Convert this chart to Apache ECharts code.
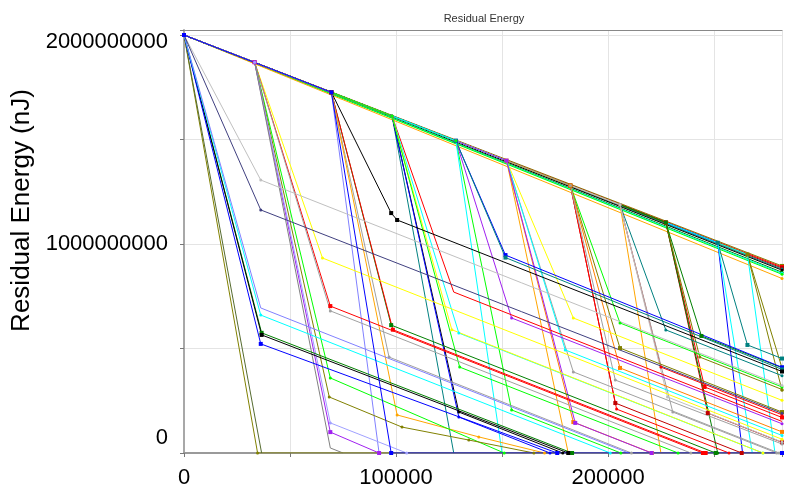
<!DOCTYPE html>
<html>
<head>
<meta charset="utf-8">
<script src="https://cdn.jsdelivr.net/npm/echarts@6/dist/echarts.min.js"></script>
<style>
  html, body { margin: 0; padding: 0; background: #fff; }
  #chart { width: 785px; height: 495px; }
</style>
</head>
<body>
<div id="chart"></div>
<script>
// every node starts full
const startPoint = [0, 2000e6];

// axis ticks (labels only on every other grid line)
const xTicks = [0, 100000, 200000];
const yTicks = [0, 1000000000, 2000000000];

// nodes that never drop off the main line
const keepEnds = [
  [282000, 895e6], [282000, 890e6], [282000, 885e6], [282000, 880e6], [282000, 875e6],
  [282000, 865e6], [282000, 860e6], [282000, 855e6], [282000, 835e6]
];

// drop rounds: where the node leaves the main line, then the rest of its curve
const drop0Start = null;
const drop0Tails = [
  [[34700, 0], [282000, 0]],
  [[36600, 0]],
  [[36600, 575e6], [183000, 0]],
  [[36600, 565e6], [181200, 0]],
  [[36200, 522e6], [176000, 0]],
  [[36200, 660e6], [201000, 0]],
  [[36200, 694e6], [209700, 0]],
  [[36200, 1306e6], [282000, 323e6]],
  [[36200, 1163e6], [282000, 190e6]]
];

const drop1Start = [33300, 1870e6];
const drop1Tails = [
  [[65300, 933e6], [282000, 66e6]],
  [[69000, 703e6], [244700, 0]],
  [[69000, 680e6], [239000, 0]],
  [[69000, 359e6], [151000, 0]],
  [[68500, 268e6], [102800, 124e6], [134300, 62e6], [165000, 0]],
  [[69000, 100e6], [92000, 0]],
  [[69000, 144e6], [105000, 0]],
  [[69000, 24e6], [75000, 0]]
];

const drop2Start = [69500, 1726e6];
const drop2Tails = [
  [[97700, 1148e6], [100500, 1115e6], [282000, 390e6]],
  [[97700, 612e6], [250700, 0]],
  [[98500, 590e6], [246000, 0]],
  [[96700, 459e6], [211000, 0]],
  [[100500, 182e6], [139000, 77e6], [170000, 0]],
  [[92000, 0]]
];

const drop3Start = [98100, 1613e6];
const drop3Tails = [
  [[127200, 770e6], [282000, 151e6]],
  [[129600, 574e6], [273000, 0]],
  [[127200, 0]],
  [[129600, 196e6], [178600, 0]],
  [[129600, 172e6], [172600, 0]],
  [[126300, 590e6], [273000, 0]],
  [[130000, 411e6], [233000, 0]]
];

const drop4Start = [128200, 1494e6];
const drop4Tails = [
  [[151600, 947e6], [282000, 410e6]],
  [[151600, 935e6], [282000, 400e6]],
  [[154500, 646e6], [282000, 140e6]],
  [[154500, 206e6], [206000, 0]],
  [[150000, 0]]
];

const drop5Start = [152100, 1399e6];
const drop5Tails = [
  [[181200, 0]],
  [[183600, 148e6], [220600, 0]],
  [[183600, 646e6], [282000, 252e6]],
  [[183600, 388e6], [280600, 0]],
  [[179800, 493e6], [282000, 84e6]],
  [[184500, 144e6], [220500, 0]]
];

const drop6Start = [182200, 1280e6];
const drop6Tails = [
  [[203400, 239e6], [263000, 0]],
  [[204000, 210e6], [257000, 0]],
  [[205600, 622e6], [282000, 316e6]],
  [[205600, 502e6], [282000, 196e6]],
  [[205600, 407e6], [282000, 101e6]],
  [[203400, 349e6], [282000, 43e6]]
];

const drop7Start = [205600, 1188e6];
const drop7Tails = [
  [[227200, 589e6], [282000, 370e6]],
  [[224900, 411e6], [282000, 183e6]],
  [[224900, 0]],
  [[230500, 196e6], [279500, 0]],
  [[228000, 268e6], [282000, 52e6]]
];

const drop8Start = [227200, 1103e6];
const drop8Tails = [
  [[247000, 191e6], [282000, 51e6]],
  [[245500, 316e6], [282000, 170e6]],
  [[251700, 0]],
  [[243200, 459e6], [282000, 304e6]],
  [[244000, 560e6], [282000, 408e6]]
];

const drop9Start = [251700, 1006e6];
const drop9Tails = [
  [[265700, 517e6], [282000, 452e6]],
  [[263400, 0]],
  [[268000, 0]]
];

const drop10Start = [265700, 950e6];
const drop10Tails = [
  [[282000, 407e6]],
  [[282000, 300e6]],
  [[278700, 0]]
];

// the blue node that dies at the third round and lies along zero afterwards
const lastBlueTail = [[97700, 0], [282000, 0]];

// styles: [colour, symbol]
const keepStyle = [['#808000', 'rect'], ['#ff0000', 'rect'], ['#c00000', 'rect'], ['#008080', 'circle'], ['#000000', 'circle'],
  ['#008000', 'circle'], ['#00ffff', 'circle'], ['#00ff00', 'circle'], ['#ffa500', 'circle']];
const drop0Style = [['#808000', 'circle'], ['#556b2f', 'none'], ['#008000', 'rect'], ['#000000', 'rect'], ['#0000ff', 'rect'],
  ['#00ffff', 'circle'], ['#8080ff', 'none'], ['#c0c0c0', 'circle'], ['#404080', 'circle']];
const drop1Style = [['#ffff00', 'circle'], ['#ff0000', 'rect'], ['#a0a0a0', 'circle'], ['#00ff00', 'circle'], ['#808000', 'circle'],
  ['#a020f0', 'rect'], ['#a0a0ff', 'circle'], ['#808080', 'none']];
const drop2Style = [['#000000', 'rect'], ['#008000', 'rect'], ['#ff0000', 'rect'], ['#a0a0a0', 'circle'], ['#ffa500', 'circle'], ['#8080ff', 'none']];
const drop3Style = [['#ff0000', 'none'], ['#00ffff', 'circle'], ['#008080', 'none'], ['#000000', 'circle'], ['#0000ff', 'circle'],
  ['#ffff00', 'circle'], ['#00ff00', 'circle']];
const drop4Style = [['#0000ff', 'rect'], ['#008080', 'rect'], ['#a020f0', 'circle'], ['#00ff00', 'circle'], ['#00ffff', 'none']];
const drop5Style = [['#ffa500', 'none'], ['#ff8000', 'rect'], ['#ffff00', 'circle'], ['#a0a0a0', 'circle'], ['#00ffff', 'circle'], ['#a020f0', 'rect']];
const drop6Style = [['#c00000', 'rect'], ['#ff0000', 'circle'], ['#00ff00', 'circle'], ['#808000', 'rect'], ['#ff8000', 'rect'], ['#a0a0a0', 'circle']];
const drop7Style = [['#008080', 'circle'], ['#ff0000', 'circle'], ['#ffa500', 'none'], ['#a0a0a0', 'circle'], ['#c0c0c0', 'circle']];
const drop8Style = [['#c00000', 'rect'], ['#ff0000', 'rect'], ['#008000', 'circle'], ['#808000', 'circle'], ['#008000', 'rect']];
const drop9Style = [['#008080', 'rect'], ['#0000ff', 'none'], ['#00ffff', 'none']];
const drop10Style = [['#808000', 'rect'], ['#808000', 'circle'], ['#00ffff', 'none']];

const chart = echarts.init(document.getElementById('chart'));

function makeSeries(points, style) {
  const sym = style[1];
  return {
    type: 'line',
    data: points,
    symbol: sym === 'none' ? 'none' : sym,
    symbolSize: sym === 'rect' ? 4 : 3,
    showSymbol: sym !== 'none',
    lineStyle: { color: style[0], width: 1 },
    itemStyle: { color: style[0] },
    animation: false,
    silent: true
  };
}

const series = [];
keepEnds.forEach((end, i) => series.push(makeSeries([startPoint, end], keepStyle[i])));

const rounds = [
  [drop10Start, drop10Tails, drop10Style],
  [drop9Start, drop9Tails, drop9Style],
  [drop8Start, drop8Tails, drop8Style],
  [drop7Start, drop7Tails, drop7Style],
  [drop6Start, drop6Tails, drop6Style],
  [drop5Start, drop5Tails, drop5Style],
  [drop4Start, drop4Tails, drop4Style],
  [drop3Start, drop3Tails, drop3Style],
  [drop2Start, drop2Tails, drop2Style],
  [drop1Start, drop1Tails, drop1Style],
  [drop0Start, drop0Tails, drop0Style]
];
rounds.forEach(([start, tails, styles]) => {
  tails.forEach((tail, i) => {
    const pts = start ? [startPoint, start].concat(tail) : [startPoint].concat(tail);
    series.push(makeSeries(pts, styles[i]));
  });
});
series.push(makeSeries([startPoint, drop2Start].concat(lastBlueTail), ['#0000ff', 'rect']));

const option = {
  backgroundColor: '#ffffff',
  textStyle: { fontFamily: '"Liberation Sans", Arial, sans-serif' },
  title: {
    text: 'Residual Energy',
    left: 479,
    top: 8,
    textAlign: 'center',
    textStyle: { fontSize: 11, fontWeight: 'normal', color: '#333' }
  },
  grid: { left: 184, right: 0, top: 30, bottom: 42 },
  xAxis: [
    {
      type: 'value',
      min: 0,
      max: 282000,
      interval: 50000,
      offset: 5,
      axisLine: { show: true, lineStyle: { color: '#9a9a9a', width: 2 } },
      axisTick: { show: true, length: 4, lineStyle: { color: '#777' } },
      axisLabel: {
        color: '#000',
        fontSize: 22,
        margin: 9,
        formatter: v => (xTicks.indexOf(v) >= 0 ? String(v) : '')
      },
      splitLine: { show: true, lineStyle: { color: '#e4e4e4', width: 1 } }
    },
    {
      type: 'value',
      position: 'top',
      min: 0,
      max: 282000,
      axisLine: { show: true, lineStyle: { color: '#888', width: 1 } },
      axisTick: { show: false },
      axisLabel: { show: false },
      splitLine: { show: false }
    }
  ],
  yAxis: {
    type: 'value',
    min: 0,
    max: 2024000000,
    interval: 500000000,
    offset: 4,
    name: 'Residual Energy (nJ)',
    nameLocation: 'middle',
    nameRotate: 90,
    nameGap: 137,
    nameTextStyle: { fontSize: 26, color: '#000', padding: [0, 0, 0, 62] },
    axisLine: { show: true, lineStyle: { color: '#a8a8a8', width: 2 } },
    axisTick: { show: true, length: 4, lineStyle: { color: '#777' } },
    axisLabel: {
      color: '#000',
      fontSize: 22,
      margin: 12,
      formatter: v => {
        if (v === yTicks[2]) return '{lo|' + v + '}';
        if (v === yTicks[0]) return '{hi|0}';
        if (v === yTicks[1]) return String(v);
        return '';
      },
      rich: {
        lo: { fontSize: 22, color: '#000', padding: [14, 0, 0, 0] },
        hi: { fontSize: 22, color: '#000', padding: [0, 0, 30, 0] }
      }
    },
    splitLine: { show: true, lineStyle: { color: '#e4e4e4', width: 1 } }
  },
  series: series
};

chart.setOption(option);
</script>
</body>
</html>
